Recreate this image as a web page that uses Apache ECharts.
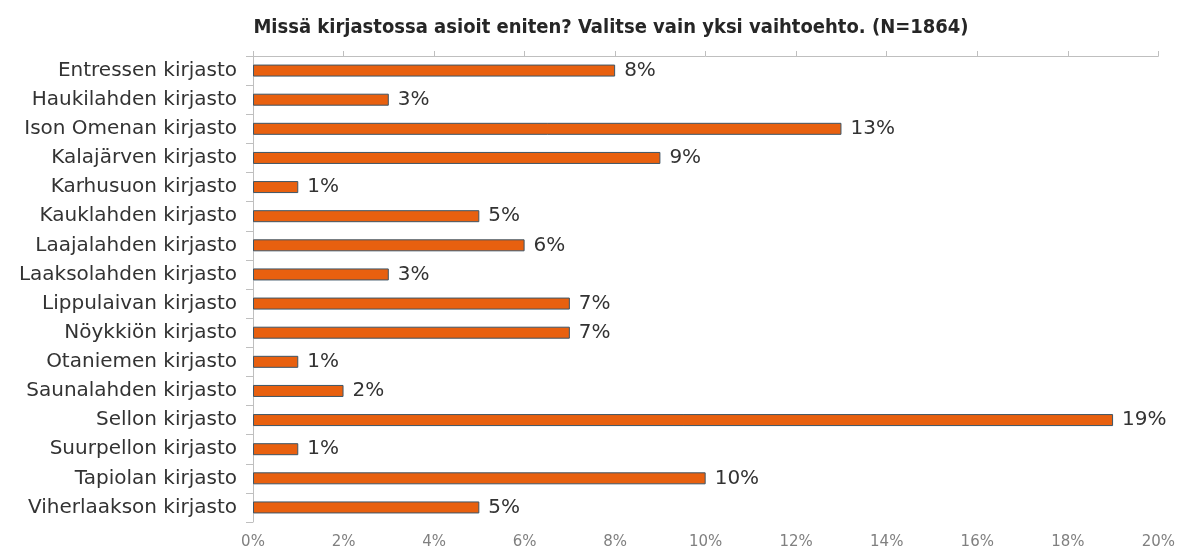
<!DOCTYPE html>
<html><head><meta charset="utf-8">
<script src="https://cdn.jsdelivr.net/npm/echarts@6/dist/echarts.min.js"></script>
<style>html,body{margin:0;padding:0;background:#fff}#c{width:1178px;height:550px}</style>
</head><body><div id="c"></div>
<script>
const titleText = 'Missä kirjastossa asioit eniten? Valitse vain yksi vaihtoehto. (N=1864)';
const categories = ['Entressen kirjasto','Haukilahden kirjasto','Ison Omenan kirjasto','Kalajärven kirjasto','Karhusuon kirjasto','Kauklahden kirjasto','Laajalahden kirjasto','Laaksolahden kirjasto','Lippulaivan kirjasto','Nöykkiön kirjasto','Otaniemen kirjasto','Saunalahden kirjasto','Sellon kirjasto','Suurpellon kirjasto','Tapiolan kirjasto','Viherlaakson kirjasto'];
const values = [8,3,13,9,1,5,6,3,7,7,1,2,19,1,10,5];
const xMin = 0, xMax = 20, xStep = 2;

const chart = echarts.init(document.getElementById('c'), null, {renderer:'canvas'});
const axisGray = '#bfbfbf';
const baseFont = '"DejaVu Sans",Verdana,sans-serif';
chart.setOption({
  animation: false,
  title: {
    text: titleText, left: 606, top: 13, textAlign: 'center',
    textStyle: {fontFamily: '"DejaVu Sans Condensed","DejaVu Sans",sans-serif', fontWeight: 'bold', fontSize: 20, color: '#262626'}
  },
  grid: {left: 253, right: 18, top: 56, bottom: 28, containLabel: false},
  xAxis: [
    {type: 'value', min: xMin, max: xMax, interval: xStep, position: 'top',
     axisLine: {show: true, lineStyle: {color: axisGray, width: 1}},
     axisTick: {show: true, length: 5, lineStyle: {color: axisGray}},
     axisLabel: {show: false}, splitLine: {show: false}},
    {type: 'value', min: xMin, max: xMax, interval: xStep, position: 'bottom',
     axisLine: {show: false}, axisTick: {show: false}, splitLine: {show: false},
     axisLabel: {show: true, margin: 13, formatter: v => v + '%', color: '#808080', fontSize: 15, fontFamily: baseFont}}
  ],
  yAxis: {
    type: 'category', data: categories, inverse: true,
    axisLine: {show: true, lineStyle: {color: axisGray, width: 1}},
    axisTick: {show: true, length: 7, lineStyle: {color: axisGray}},
    axisLabel: {margin: 16, color: '#333333', fontSize: 20, fontFamily: baseFont}
  },
  series: [{
    type: 'bar', data: values, xAxisIndex: 0, barWidth: 12,
    itemStyle: {color: '#e8600f', borderColor: '#3d5566', borderWidth: 1},
    label: {show: true, position: 'right', distance: 9, formatter: p => p.value + '%', color: '#333333', fontSize: 20, fontFamily: baseFont}
  }]
});
</script></body></html>
